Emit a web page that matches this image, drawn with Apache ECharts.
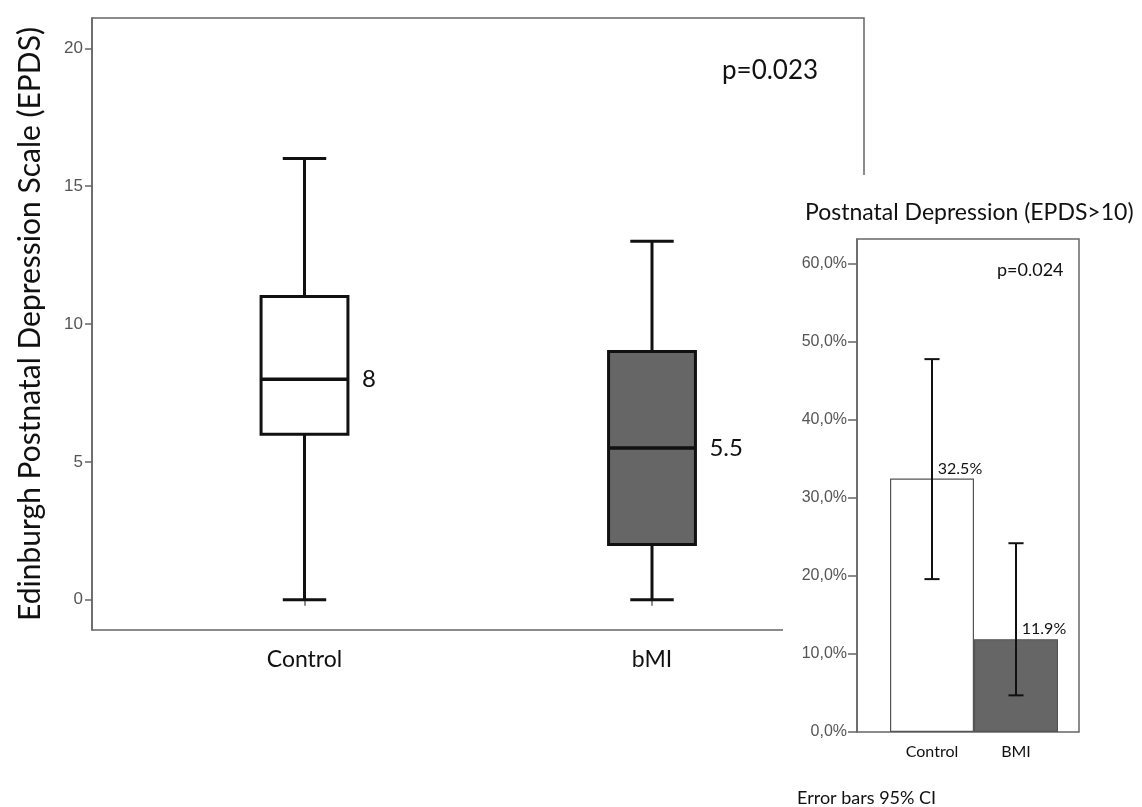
<!DOCTYPE html>
<html>
<head>
<meta charset="utf-8">
<style>
  html, body { margin: 0; padding: 0; background: #fff; }
  #chart { width: 1142px; height: 807px; }
</style>
<script src="https://cdn.jsdelivr.net/npm/echarts@6/dist/echarts.min.js"></script>
</head>
<body>
<div id="chart"></div>
<script>
// main panel: EPDS score box plots
const groups = ['Control', 'bMI'];
const epdsMin = [0, 0];
const epdsQ1 = [6, 2];
const epdsMedian = [8, 5.5];
const epdsQ3 = [11, 9];
const epdsMax = [16, 13];
const epdsTicks = [0, 5, 10, 15, 20];

// inset: share with EPDS > 10, 95% CI
const pdGroups = ['Control', 'BMI'];
const pdRate = [32.5, 11.9];
const pdCiLow = [19.6, 4.7];
const pdCiHigh = [47.8, 24.2];

const boxColors = ['#ffffff', '#666666'];
const barColors = ['#ffffff', '#666666'];

const txtFont = 'Lato';
const tickFont = 'Liberation Sans';
const frameColor = '#666';

const boxData = groups.map((g, i) => [i, epdsMin[i], epdsQ1[i], epdsMedian[i], epdsQ3[i], epdsMax[i]]);
const ciData = pdGroups.map((g, i) => [i, pdCiLow[i], pdCiHigh[i]]);

function renderBox(params, api) {
    const i = api.value(0);
    const band = api.size([1, 0])[0];
    const half = band * 0.125;
    const cap = band * 0.0625;
    const lo = api.coord([i, api.value(1)]);
    const q1 = api.coord([i, api.value(2)]);
    const med = api.coord([i, api.value(3)]);
    const q3 = api.coord([i, api.value(4)]);
    const hi = api.coord([i, api.value(5)]);
    const x = med[0];
    const ls = { stroke: '#111', lineWidth: 3 };
    return {
        type: 'group',
        children: [
            { type: 'line', shape: { x1: x, y1: hi[1], x2: x, y2: q3[1] }, style: ls },
            { type: 'line', shape: { x1: x, y1: q1[1], x2: x, y2: lo[1] }, style: ls },
            { type: 'line', shape: { x1: x - cap, y1: hi[1], x2: x + cap, y2: hi[1] }, style: ls },
            { type: 'line', shape: { x1: x - cap, y1: lo[1], x2: x + cap, y2: lo[1] }, style: ls },
            {
                type: 'rect',
                shape: { x: x - half, y: q3[1], width: half * 2, height: q1[1] - q3[1] },
                style: { fill: boxColors[i], stroke: '#111', lineWidth: 3 }
            },
            { type: 'line', shape: { x1: x - half, y1: med[1], x2: x + half, y2: med[1] }, style: { stroke: '#111', lineWidth: 3.5 } },
            {
                type: 'text',
                x: x + half + 14,
                y: med[1],
                style: {
                    text: String(api.value(3)),
                    font: '24px ' + txtFont,
                    fill: '#111',
                    verticalAlign: 'middle'
                }
            }
        ]
    };
}

function renderCi(params, api) {
    const i = api.value(0);
    const band = api.size([1, 0])[0];
    const cap = band * 0.09;
    const lo = api.coord([i, api.value(1)]);
    const hi = api.coord([i, api.value(2)]);
    const x = lo[0];
    const ls = { stroke: '#111', lineWidth: 2 };
    return {
        type: 'group',
        children: [
            { type: 'line', shape: { x1: x, y1: hi[1], x2: x, y2: lo[1] }, style: ls },
            { type: 'line', shape: { x1: x - cap, y1: hi[1], x2: x + cap, y2: hi[1] }, style: ls },
            { type: 'line', shape: { x1: x - cap, y1: lo[1], x2: x + cap, y2: lo[1] }, style: ls }
        ]
    };
}

const chart = echarts.init(document.getElementById('chart'));

chart.setOption({
    animation: false,
    backgroundColor: '#fff',
    title: [
        { text: 'p=0.023', left: 722, top: 58, padding: 0,
          textStyle: { fontFamily: txtFont, fontSize: 26, fontWeight: 'normal', color: '#111' } },
        { text: 'Postnatal Depression (EPDS>10)', left: 805, top: 201, padding: 0, z: 10,
          textStyle: { fontFamily: txtFont, fontSize: 23, fontWeight: 'normal', color: '#111' } },
        { text: 'p=0.024', left: 997, top: 261, padding: 0, z: 10,
          textStyle: { fontFamily: txtFont, fontSize: 18, fontWeight: 'normal', color: '#111' } },
        { text: 'Error bars 95% CI', left: 797, top: 789, padding: 0, z: 10,
          textStyle: { fontFamily: txtFont, fontSize: 18, fontWeight: 'normal', color: '#111' } }
    ],
    graphic: [
        // inset sits on top of the main frame
        { type: 'rect', z: 1, shape: { x: 783, y: 175, width: 359, height: 632 }, style: { fill: '#fff' } }
    ],
    grid: [
        { left: 92, top: 18, right: 278, bottom: 177, show: true, borderColor: frameColor, borderWidth: 1.5 },
        { left: 130.75, top: 18, right: 316.25, bottom: 177 },
        { left: 857, top: 239, right: 63, bottom: 75, show: true, borderColor: frameColor, borderWidth: 1.5, z: 3 },
        { left: 890, top: 239, right: 84, bottom: 75, z: 3 }
    ],
    xAxis: [
        { gridIndex: 0, type: 'value', show: false },
        {
            gridIndex: 1, type: 'category', data: groups,
            axisLine: { show: false },
            axisTick: { show: true, alignWithLabel: true, length: 6, lineStyle: { color: frameColor, width: 1.5 } },
            axisLabel: { margin: 18, fontFamily: txtFont, fontSize: 23, color: '#111' }
        },
        { gridIndex: 2, type: 'value', show: false },
        {
            gridIndex: 3, type: 'category', data: pdGroups, z: 3,
            axisLine: { show: false },
            axisTick: { show: false },
            axisLabel: { margin: 12, fontFamily: txtFont, fontSize: 16, color: '#111' }
        }
    ],
    yAxis: [
        {
            gridIndex: 0, type: 'value', min: -1.1, max: 21.1,
            name: 'Edinburgh Postnatal Depression Scale (EPDS)',
            nameLocation: 'middle', nameGap: 47,
            nameTextStyle: { fontFamily: txtFont, fontSize: 30, color: '#111' },
            splitLine: { show: false },
            axisLine: { show: true, lineStyle: { color: frameColor, width: 1.5 } },
            axisTick: { show: true, length: 7, customValues: epdsTicks, lineStyle: { color: frameColor, width: 1.5 } },
            axisLabel: { margin: 9, customValues: epdsTicks, fontFamily: tickFont, fontSize: 17, color: '#555' }
        },
        { gridIndex: 1, type: 'value', min: -1.1, max: 21.1, show: false },
        {
            gridIndex: 2, type: 'value', min: 0, max: 63.2, interval: 10, z: 3,
            splitLine: { show: false },
            axisLine: { show: true, lineStyle: { color: frameColor, width: 1.5 } },
            axisTick: { show: true, length: 9, lineStyle: { color: frameColor, width: 1.5 } },
            axisLabel: {
                margin: 10, fontFamily: tickFont, fontSize: 16, color: '#555',
                formatter: v => v.toFixed(1).replace('.', ',') + '%',
                showMaxLabel: false
            }
        },
        { gridIndex: 3, type: 'value', min: 0, max: 63.2, show: false }
    ],
    series: [
        {
            type: 'custom', xAxisIndex: 1, yAxisIndex: 1,
            renderItem: renderBox, data: boxData
        },
        {
            type: 'bar', xAxisIndex: 3, yAxisIndex: 3, z: 4,
            barWidth: '100%',
            data: pdRate.map((v, i) => ({
                value: v,
                itemStyle: { color: barColors[i], borderColor: '#555', borderWidth: 1.2 }
            })),
            label: {
                show: true, position: 'top', distance: 2, offset: [28, 0],
                fontFamily: txtFont, fontSize: 16, color: '#111',
                formatter: p => p.value + '%'
            }
        },
        {
            type: 'custom', xAxisIndex: 3, yAxisIndex: 3, z: 5,
            renderItem: renderCi, data: ciData
        }
    ]
});
</script>
</body>
</html>
